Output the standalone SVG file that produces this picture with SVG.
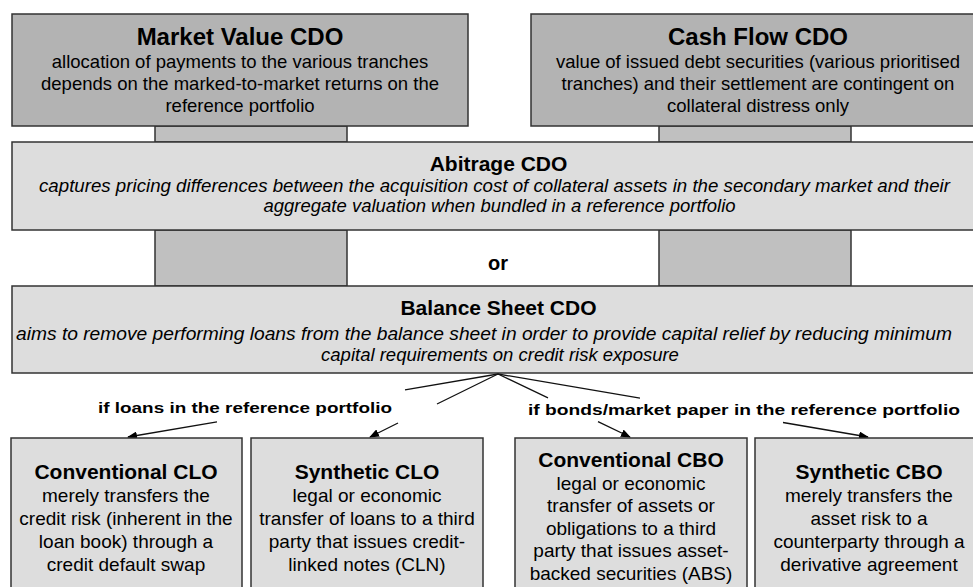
<svg xmlns="http://www.w3.org/2000/svg" width="973" height="587" viewBox="0 0 973 587">
<defs>
<style>
text{font-family:"Liberation Sans",Arial,sans-serif;fill:#000;text-anchor:middle}
.dark{fill:#b3b3b3;stroke:#333;stroke-width:1.5}
.mid{fill:#c0c0c0;stroke:#333;stroke-width:1.5}
.light{fill:#dddddd;stroke:#333;stroke-width:1.5}
.t1{font-size:24px;font-weight:bold}
.b1{font-size:18.5px}
.t2{font-size:21px;font-weight:bold}
.i2{font-size:18.5px;font-style:italic}
.t3{font-size:21px;font-weight:bold}
.b3{font-size:19px}
.lbl{font-size:15.5px;font-weight:bold}
.con{fill:none;stroke:#111;stroke-width:1.3;marker-end:url(#arr)}
</style>
<marker id="arr" markerWidth="10" markerHeight="8" refX="9" refY="4" orient="auto" markerUnits="userSpaceOnUse">
<path d="M0,0 L10,4 L0,8 Z" fill="#000"/>
</marker>
</defs>
<rect width="973" height="587" fill="#fff"/>

<g id="links">
<rect class="mid" x="155" y="126" width="192" height="16"/>
<rect class="mid" x="659" y="126" width="192" height="16"/>
<rect class="mid" x="155" y="230" width="192" height="56"/>
<rect class="mid" x="659" y="230" width="192" height="56"/>
</g>

<g id="market-value">
<rect class="dark" x="12" y="14" width="456" height="112"/>
<text class="t1" x="240" y="45">Market Value CDO</text>
<text class="b1" x="240" y="68">allocation of payments to the various tranches</text>
<text class="b1" x="240" y="90">depends on the marked-to-market returns on the</text>
<text class="b1" x="240" y="112">reference portfolio</text>
</g>

<g id="cash-flow">
<rect class="dark" x="531" y="14" width="456" height="112"/>
<text class="t1" x="758" y="45">Cash Flow CDO</text>
<text class="b1" x="758" y="68">value of issued debt securities (various prioritised</text>
<text class="b1" x="758" y="90">tranches) and their settlement are contingent on</text>
<text class="b1" x="758" y="112">collateral distress only</text>
</g>

<g id="arbitrage">
<rect class="light" x="12" y="142" width="975" height="88"/>
<text class="t2" x="498.5" y="171">Abitrage CDO</text>
<text class="i2" x="494.5" y="192" textLength="911" lengthAdjust="spacingAndGlyphs">captures pricing differences between the acquisition cost of collateral assets in the secondary market and their</text>
<text class="i2" x="499.5" y="212">aggregate valuation when bundled in a reference portfolio</text>
</g>

<g id="or-label">
<text class="t2" x="498" y="270" style="font-size:20px">or</text>
</g>

<g id="balance-sheet">
<rect class="light" x="12" y="286" width="975" height="87"/>
<text class="t2" x="498.5" y="315">Balance Sheet CDO</text>
<text class="i2" x="484" y="340" textLength="936" lengthAdjust="spacingAndGlyphs">aims to remove performing loans from the balance sheet in order to provide capital relief by reducing minimum</text>
<text class="i2" x="500" y="361">capital requirements on credit risk exposure</text>
</g>

<g id="connectors">
<path class="con" d="M498,374 L405,389.8 M217,421.8 L128,437"/>
<path class="con" d="M498,374 L437,404 M398,423 L370,437"/>
<path class="con" d="M498,374 L548,397.9 M598,421.7 L630,437"/>
<path class="con" d="M498,374 L640,398.2 M783,422.5 L868,437"/>
</g>

<g id="label-loans">
<text class="lbl" x="245" y="413" textLength="294" lengthAdjust="spacingAndGlyphs">if loans in the reference portfolio</text>
</g>
<g id="label-bonds">
<text class="lbl" x="744" y="415" textLength="432" lengthAdjust="spacingAndGlyphs">if bonds/market paper in the reference portfolio</text>
</g>

<g id="conventional-clo">
<rect class="light" x="11" y="438" width="231" height="170"/>
<text class="t3" x="126" y="479">Conventional CLO</text>
<text class="b3" x="126" y="502">merely transfers the</text>
<text class="b3" x="126" y="525">credit risk (inherent in the</text>
<text class="b3" x="126" y="548">loan book) through a</text>
<text class="b3" x="126" y="571">credit default swap</text>
</g>

<g id="synthetic-clo">
<rect class="light" x="251" y="438" width="232" height="170"/>
<text class="t3" x="367" y="479">Synthetic CLO</text>
<text class="b3" x="367" y="502">legal or economic</text>
<text class="b3" x="367" y="525">transfer of loans to a third</text>
<text class="b3" x="367" y="548">party that issues credit-</text>
<text class="b3" x="367" y="571">linked notes (CLN)</text>
</g>

<g id="conventional-cbo">
<rect class="light" x="515" y="438" width="232" height="170"/>
<text class="t3" x="631" y="467">Conventional CBO</text>
<text class="b3" x="631" y="490">legal or economic</text>
<text class="b3" x="631" y="512">transfer of assets or</text>
<text class="b3" x="631" y="535">obligations to a third</text>
<text class="b3" x="631" y="557">party that issues asset-</text>
<text class="b3" x="631" y="580">backed securities (ABS)</text>
</g>

<g id="synthetic-cbo">
<rect class="light" x="755" y="438" width="231" height="170"/>
<text class="t3" x="869" y="479">Synthetic CBO</text>
<text class="b3" x="869" y="502">merely transfers the</text>
<text class="b3" x="869" y="525">asset risk to a</text>
<text class="b3" x="869" y="548">counterparty through a</text>
<text class="b3" x="869" y="571">derivative agreement</text>
</g>
</svg>
